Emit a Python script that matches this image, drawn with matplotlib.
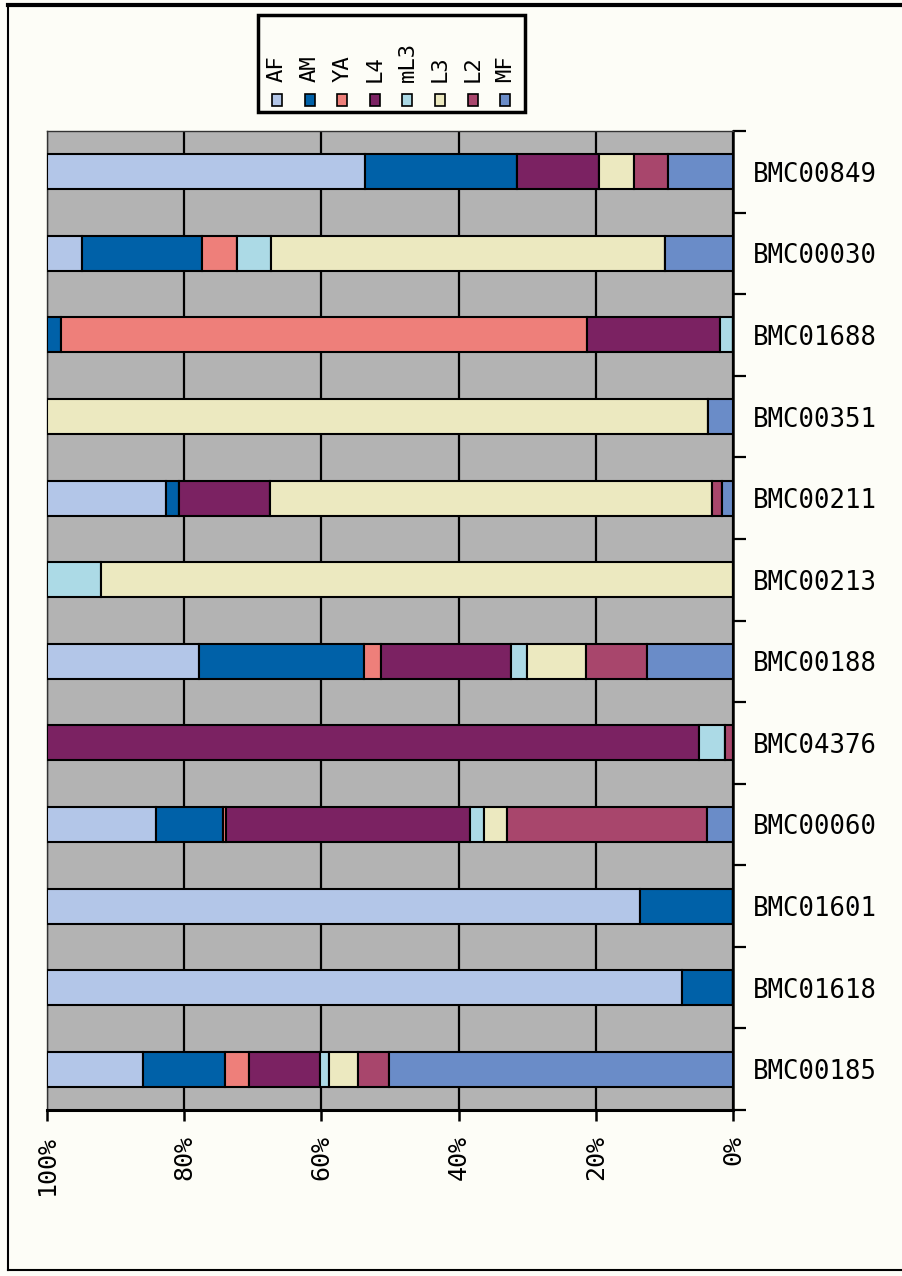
import numpy as np
import matplotlib
matplotlib.use("Agg")
import matplotlib.pyplot as plt
from matplotlib.patches import Rectangle
from matplotlib.lines import Line2D

# Strains, top to bottom
categories = ["BMC00849", "BMC00030", "BMC01688", "BMC00351", "BMC00211", "BMC00213",
              "BMC00188", "BMC04376", "BMC00060", "BMC01601", "BMC01618", "BMC00185"]

# Share of each stage per strain (%)
AF  = [46.3,  5.1,  0.0,  0.0, 17.3,  0.0, 22.1,  0.0, 15.9, 86.4, 92.6, 14.0]
AM  = [22.1, 17.4,  2.1,  0.0,  1.9,  0.0, 24.1,  0.0,  9.7, 13.6,  7.4, 11.9]
YA  = [ 0.0,  5.1, 76.6,  0.0,  0.0,  0.0,  2.4,  0.0,  0.5,  0.0,  0.0,  3.5]
L4  = [12.0,  0.0, 19.3,  0.0, 13.3,  0.0, 18.9, 95.1, 35.5,  0.0,  0.0, 10.3]
mL3 = [ 0.0,  5.0,  1.9,  0.0,  0.0,  7.8,  2.4,  3.8,  2.1,  0.0,  0.0,  1.4]
L3  = [ 5.1, 57.4,  0.0, 96.3, 64.3, 92.2,  8.6,  0.0,  3.4,  0.0,  0.0,  4.2]
L2  = [ 5.0,  0.0,  0.0,  0.0,  1.5,  0.0,  8.9,  1.1, 29.1,  0.0,  0.0,  4.5]
MF  = [ 9.4,  9.9,  0.0,  3.7,  1.6,  0.0, 12.5,  0.0,  3.8,  0.0,  0.0, 50.1]

series_names = ["AF", "AM", "YA", "L4", "mL3", "L3", "L2", "MF"]
series_values = [AF, AM, YA, L4, mL3, L3, L2, MF]
series_colors = ["#b3c6e8", "#0061a8", "#ee7f7a", "#7b2262", "#acdae6",
                 "#ece9c0", "#a8466c", "#6a8cc8"]

x_ticks = [100, 80, 60, 40, 20, 0]
x_tick_labels = ["100%", "80%", "60%", "40%", "20%", "0%"]

FONT = "DejaVu Sans Mono"
W, H = 903, 1276

fig = plt.figure(figsize=(W / 100, H / 100), dpi=100, facecolor="#fdfdf7")
ax = fig.add_axes([47 / W, 1 - 1110 / H, (733 - 47) / W, (1110 - 131) / H])
ax.set_facecolor("#b3b3b3")

data = np.array(series_values, dtype=float)
shares = data / data.sum(axis=0) * 100.0   # 100 % stacked
n = len(categories)
ypos = np.arange(n)[::-1]

# Stack from the 100 % side toward 0 %
start = np.full(n, 100.0)
for name, vals, col in zip(series_names, shares, series_colors):
    ax.barh(ypos, -vals, left=start, height=0.43, color=col,
            edgecolor="black", linewidth=1.5, zorder=3)
    start = start - vals

ax.set_xlim(100, 0)
ax.set_ylim(-0.5, n - 0.5)

# Value axis
ax.set_xticks(x_ticks)
ax.set_xticklabels(x_tick_labels, rotation=90, va="top", ha="center",
                   fontfamily=FONT, fontsize=18)
ax.tick_params(axis="x", direction="out", length=8, width=1.8, pad=10,
               colors="black")
ax.grid(axis="x", color="black", linewidth=1.6, zorder=1)
ax.set_axisbelow(True)

# Category axis on the right: ticks between strains, labels at centres
ax.yaxis.tick_right()
ax.set_yticks(np.arange(n + 1) - 0.5)
ax.set_yticklabels([])
ax.set_yticks(ypos, minor=True)
ax.set_yticklabels(categories, minor=True, fontfamily=FONT, fontsize=18.5)
ax.tick_params(axis="y", which="major", direction="out", length=9, width=1.6,
               left=False, right=True)
ax.tick_params(axis="y", which="minor", length=0, pad=14, left=False, right=True)

for side in ("top", "left"):
    ax.spines[side].set_linewidth(1.0)
    ax.spines[side].set_color("#333333")
ax.spines["bottom"].set_linewidth(2.2)
ax.spines["right"].set_linewidth(1.8)

# Legend box with vertical labels above square keys
fig.add_artist(Rectangle((258 / W, 1 - 112 / H), (525 - 258) / W, (112 - 15) / H,
                         transform=fig.transFigure, fill=False,
                         edgecolor="black", linewidth=2.5))
for i, (name, col) in enumerate(zip(series_names, series_colors)):
    xc = 277 + 32.6 * i
    fig.add_artist(Rectangle(((xc - 5) / W, 1 - 106 / H), 10 / W, 12 / H,
                             transform=fig.transFigure, facecolor=col,
                             edgecolor="black", linewidth=1.2))
    fig.text(xc / W, 1 - 82 / H, name, rotation=90, ha="center", va="bottom",
             fontfamily=FONT, fontsize=16)

# Outer frame
frame_kw = dict(transform=fig.transFigure, color="black")
fig.add_artist(Line2D([8 / W, 1], [1 - 5 / H, 1 - 5 / H], linewidth=3, **frame_kw))
fig.add_artist(Line2D([8 / W, 8 / W], [1 - 5 / H, 1 - 1270 / H], linewidth=1.5, **frame_kw))
fig.add_artist(Line2D([8 / W, 1], [1 - 1270 / H, 1 - 1270 / H], linewidth=1.5, **frame_kw))

fig.savefig("out.png", dpi=100, facecolor=fig.get_facecolor())
